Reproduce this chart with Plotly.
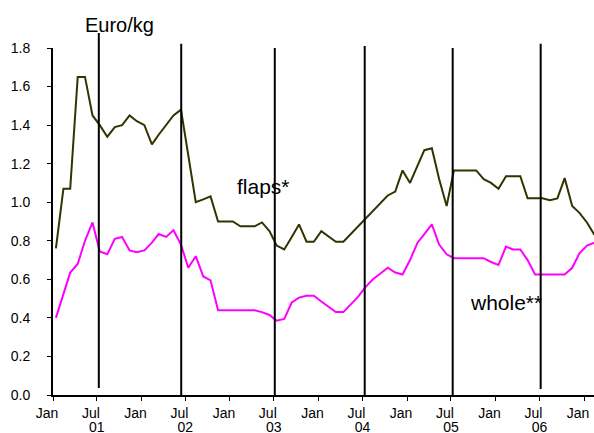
import pandas as pd
import plotly.graph_objects as go

# monthly prices, Jan 2001 .. Feb 2007 (Euro/kg)
months = pd.date_range("2001-01-01", periods=74, freq="MS") + pd.Timedelta(days=12)

flaps = [0.76, 1.07, 1.07, 1.65, 1.65, 1.45, 1.40, 1.34, 1.39, 1.40, 1.45, 1.42,
         1.40, 1.30, 1.35, 1.40, 1.45, 1.48, 1.24, 1.00, 1.015, 1.03, 0.90, 0.90,
         0.90, 0.875, 0.875, 0.875, 0.895, 0.85, 0.775, 0.755, 0.82, 0.885, 0.795, 0.795,
         0.85, 0.82, 0.795, 0.795, 0.835, 0.875, 0.915, 0.955, 0.995, 1.035, 1.055, 1.165,
         1.10, 1.19, 1.27, 1.28, 1.12, 0.98, 1.165, 1.165, 1.165, 1.165, 1.12, 1.10,
         1.07, 1.135, 1.135, 1.135, 1.02, 1.02, 1.02, 1.01, 1.02, 1.125, 0.98, 0.945,
         0.895, 0.83]

whole = [0.40, 0.52, 0.635, 0.68, 0.80, 0.895, 0.745, 0.73, 0.81, 0.82, 0.75, 0.74,
         0.75, 0.79, 0.835, 0.82, 0.855, 0.78, 0.66, 0.72, 0.615, 0.595, 0.44, 0.44,
         0.44, 0.44, 0.44, 0.44, 0.43, 0.415, 0.385, 0.395, 0.48, 0.505, 0.515, 0.515,
         0.485, 0.455, 0.43, 0.43, 0.47, 0.51, 0.56, 0.60, 0.63, 0.66, 0.635, 0.625,
         0.70, 0.79, 0.835, 0.885, 0.78, 0.73, 0.71, 0.71, 0.71, 0.71, 0.71, 0.69,
         0.675, 0.77, 0.755, 0.755, 0.70, 0.625, 0.625, 0.625, 0.625, 0.625, 0.66, 0.735,
         0.775, 0.79]

# event markers (vertical lines), their extents in plot-height fractions
event_dates = ["2001-07-09", "2002-06-14", "2003-07-05", "2004-07-10", "2005-07-08", "2006-07-06"]
event_bottom = [0.02, 0.0, 0.0, 0.0, 0.0, 0.017]
event_top = [1.043, 1.012, 1.0, 1.006, 1.0, 1.012]

tick_dates = pd.date_range("2001-01-01", "2007-01-01", freq="6MS")
tick_text = ["Jan" if d.month == 1 else "Jul" for d in tick_dates]
year_dates = [d for d in tick_dates if d.month == 7]
year_text = [d.strftime("%y") for d in year_dates]

x_range = ["2001-01-01", "2007-02-11"]

fig = go.Figure()
fig.add_trace(go.Scatter(x=months, y=flaps, mode="lines", name="flaps*",
                         line=dict(color="#333300", width=2)))
fig.add_trace(go.Scatter(x=months, y=whole, mode="lines", name="whole**",
                         line=dict(color="#ff00ff", width=2)))
# empty trace so the year axis gets drawn
fig.add_trace(go.Scatter(x=[], y=[], xaxis="x2", yaxis="y", hoverinfo="skip"))

for d, b, t in zip(event_dates, event_bottom, event_top):
    fig.add_shape(type="line", xref="x", yref="paper", x0=d, x1=d, y0=b, y1=t,
                  line=dict(color="black", width=2))

fig.add_annotation(text="Euro/kg", xref="x", yref="paper", x="2001-10-01", y=1.065,
                   xanchor="center", yanchor="middle", showarrow=False, font=dict(size=20))
fig.add_annotation(text="flaps*", xref="x", yref="y", x="2003-05-21", y=1.08,
                   xanchor="center", yanchor="middle", showarrow=False, font=dict(size=21))
fig.add_annotation(text="whole**", xref="x", yref="y", x="2006-02-14", y=0.48,
                   xanchor="center", yanchor="middle", showarrow=False, font=dict(size=21))

fig.update_layout(
    width=594, height=433,
    margin=dict(l=53, r=0, t=48, b=38, autoexpand=False),
    plot_bgcolor="white", paper_bgcolor="white",
    showlegend=False,
    font=dict(family="Liberation Sans, Arial, sans-serif", size=14, color="black"),
    xaxis=dict(type="date", range=x_range, tickmode="array", tickvals=tick_dates,
               ticktext=tick_text, ticklabelshift=-6, showgrid=False, zeroline=False,
               showline=True, linecolor="black", linewidth=2, automargin=False,
               ticks="outside", ticklen=4, tickcolor="black", tickwidth=1),
    xaxis2=dict(type="date", range=x_range, overlaying="x", anchor="y", side="bottom",
                tickmode="array", tickvals=year_dates, ticktext=year_text,
                showgrid=False, zeroline=False, showline=False, ticks="",
                automargin=False, ticklabelstandoff=22),
    yaxis=dict(range=[0, 1.8], dtick=0.2, tickformat=".1f", showgrid=False,
               zeroline=False, showline=True, linecolor="black", linewidth=2,
               ticks="outside", ticklen=4, tickcolor="black", tickwidth=1,
               automargin=False, ticklabelstandoff=14),
)

# the page's default body margin would push the figure 8px off the window
fig.write_html("out.html", config={"displayModeBar": False},
               post_script="document.body.style.margin='0';")
